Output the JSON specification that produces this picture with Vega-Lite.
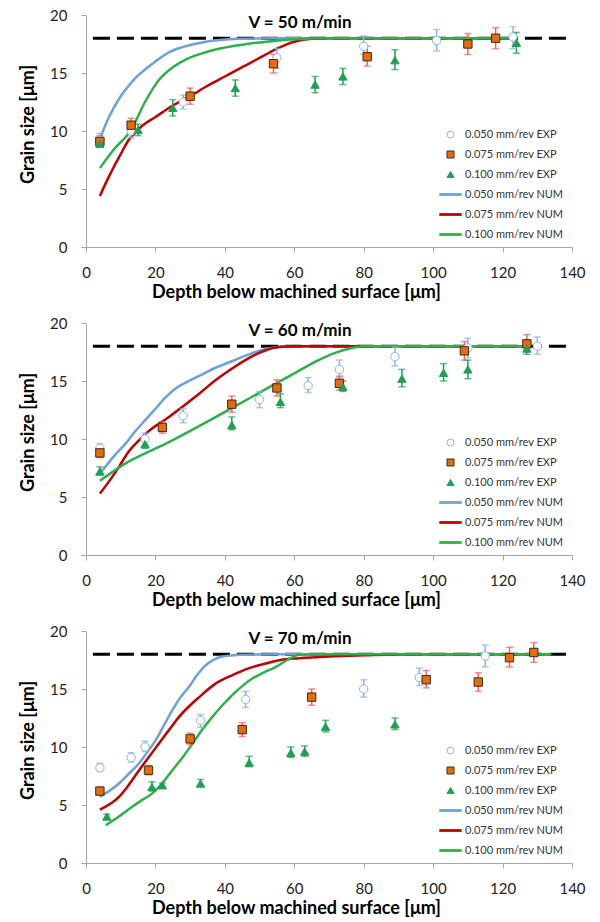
{
  "$schema": "https://vega.github.io/schema/vega-lite/v6.json",
  "padding": {"top": 8, "left": 19, "right": 5, "bottom": 2},
  "spacing": 15,
  "datasets": {
    "ref": [{"depth": 2, "size": 18}, {"depth": 139, "size": 18}],
    "exp": [
      {"panel": 50, "series": "0.050 mm/rev EXP", "depth": 4, "size": 9.2, "lo": 8.6, "hi": 9.8},
      {"panel": 50, "series": "0.050 mm/rev EXP", "depth": 13, "size": 10.0, "lo": 9.4, "hi": 10.6},
      {"panel": 50, "series": "0.050 mm/rev EXP", "depth": 28, "size": 12.5, "lo": 11.9, "hi": 13.1},
      {"panel": 50, "series": "0.050 mm/rev EXP", "depth": 55, "size": 16.3, "lo": 15.4, "hi": 17.1},
      {"panel": 50, "series": "0.050 mm/rev EXP", "depth": 80, "size": 17.3, "lo": 16.6, "hi": 18.2},
      {"panel": 50, "series": "0.050 mm/rev EXP", "depth": 101, "size": 17.8, "lo": 16.9, "hi": 18.75},
      {"panel": 50, "series": "0.050 mm/rev EXP", "depth": 123, "size": 18.1, "lo": 17.1, "hi": 19.0},
      {"panel": 50, "series": "0.075 mm/rev EXP", "depth": 4, "size": 9.1, "lo": 8.6, "hi": 9.6},
      {"panel": 50, "series": "0.075 mm/rev EXP", "depth": 13, "size": 10.5, "lo": 9.9, "hi": 11.1},
      {"panel": 50, "series": "0.075 mm/rev EXP", "depth": 30, "size": 13.0, "lo": 12.3, "hi": 13.7},
      {"panel": 50, "series": "0.075 mm/rev EXP", "depth": 54, "size": 15.8, "lo": 15.0, "hi": 16.6},
      {"panel": 50, "series": "0.075 mm/rev EXP", "depth": 81, "size": 16.4, "lo": 15.6, "hi": 17.3},
      {"panel": 50, "series": "0.075 mm/rev EXP", "depth": 110, "size": 17.5, "lo": 16.6, "hi": 18.4},
      {"panel": 50, "series": "0.075 mm/rev EXP", "depth": 118, "size": 18.0, "lo": 17.1, "hi": 18.9},
      {"panel": 50, "series": "0.100 mm/rev EXP", "depth": 4, "size": 8.9, "lo": 8.6, "hi": 9.3},
      {"panel": 50, "series": "0.100 mm/rev EXP", "depth": 15, "size": 10.1, "lo": 9.6, "hi": 10.6},
      {"panel": 50, "series": "0.100 mm/rev EXP", "depth": 25, "size": 12.0, "lo": 11.3, "hi": 12.7},
      {"panel": 50, "series": "0.100 mm/rev EXP", "depth": 43, "size": 13.7, "lo": 13.0, "hi": 14.4},
      {"panel": 50, "series": "0.100 mm/rev EXP", "depth": 66, "size": 14.0, "lo": 13.3, "hi": 14.7},
      {"panel": 50, "series": "0.100 mm/rev EXP", "depth": 74, "size": 14.7, "lo": 14.0, "hi": 15.4},
      {"panel": 50, "series": "0.100 mm/rev EXP", "depth": 89, "size": 16.1, "lo": 15.3, "hi": 17.0},
      {"panel": 50, "series": "0.100 mm/rev EXP", "depth": 124, "size": 17.6, "lo": 16.7, "hi": 18.5},

      {"panel": 60, "series": "0.050 mm/rev EXP", "depth": 4, "size": 9.2, "lo": 8.8, "hi": 9.6},
      {"panel": 60, "series": "0.050 mm/rev EXP", "depth": 17, "size": 10.0, "lo": 9.5, "hi": 10.5},
      {"panel": 60, "series": "0.050 mm/rev EXP", "depth": 28, "size": 12.0, "lo": 11.4, "hi": 12.6},
      {"panel": 60, "series": "0.050 mm/rev EXP", "depth": 50, "size": 13.4, "lo": 12.7, "hi": 14.1},
      {"panel": 60, "series": "0.050 mm/rev EXP", "depth": 64, "size": 14.6, "lo": 14.0, "hi": 15.3},
      {"panel": 60, "series": "0.050 mm/rev EXP", "depth": 73, "size": 16.0, "lo": 15.3, "hi": 16.8},
      {"panel": 60, "series": "0.050 mm/rev EXP", "depth": 89, "size": 17.1, "lo": 16.3, "hi": 17.9},
      {"panel": 60, "series": "0.050 mm/rev EXP", "depth": 110, "size": 17.85, "lo": 17.0, "hi": 18.7},
      {"panel": 60, "series": "0.050 mm/rev EXP", "depth": 130, "size": 18.0, "lo": 17.3, "hi": 18.8},
      {"panel": 60, "series": "0.075 mm/rev EXP", "depth": 4, "size": 8.8, "lo": 8.4, "hi": 9.2},
      {"panel": 60, "series": "0.075 mm/rev EXP", "depth": 22, "size": 11.0, "lo": 10.5, "hi": 11.5},
      {"panel": 60, "series": "0.075 mm/rev EXP", "depth": 42, "size": 13.0, "lo": 12.3, "hi": 13.7},
      {"panel": 60, "series": "0.075 mm/rev EXP", "depth": 55, "size": 14.4, "lo": 13.7, "hi": 15.1},
      {"panel": 60, "series": "0.075 mm/rev EXP", "depth": 73, "size": 14.8, "lo": 14.2, "hi": 15.4},
      {"panel": 60, "series": "0.075 mm/rev EXP", "depth": 109, "size": 17.6, "lo": 16.8, "hi": 18.4},
      {"panel": 60, "series": "0.075 mm/rev EXP", "depth": 127, "size": 18.2, "lo": 17.5, "hi": 19.0},
      {"panel": 60, "series": "0.100 mm/rev EXP", "depth": 4, "size": 7.2, "lo": 6.9, "hi": 7.6},
      {"panel": 60, "series": "0.100 mm/rev EXP", "depth": 17, "size": 9.55, "lo": 9.2, "hi": 10.0},
      {"panel": 60, "series": "0.100 mm/rev EXP", "depth": 42, "size": 11.2, "lo": 10.8, "hi": 11.9},
      {"panel": 60, "series": "0.100 mm/rev EXP", "depth": 56, "size": 13.2, "lo": 12.7, "hi": 13.9},
      {"panel": 60, "series": "0.100 mm/rev EXP", "depth": 74, "size": 14.5, "lo": 14.1, "hi": 15.0},
      {"panel": 60, "series": "0.100 mm/rev EXP", "depth": 91, "size": 15.2, "lo": 14.5, "hi": 16.0},
      {"panel": 60, "series": "0.100 mm/rev EXP", "depth": 103, "size": 15.7, "lo": 15.0, "hi": 16.5},
      {"panel": 60, "series": "0.100 mm/rev EXP", "depth": 110, "size": 16.0, "lo": 15.2, "hi": 16.8},
      {"panel": 60, "series": "0.100 mm/rev EXP", "depth": 127, "size": 17.8, "lo": 17.3, "hi": 18.4},

      {"panel": 70, "series": "0.050 mm/rev EXP", "depth": 4, "size": 8.2, "lo": 7.9, "hi": 8.6},
      {"panel": 70, "series": "0.050 mm/rev EXP", "depth": 13, "size": 9.1, "lo": 8.7, "hi": 9.5},
      {"panel": 70, "series": "0.050 mm/rev EXP", "depth": 17, "size": 10.0, "lo": 9.6, "hi": 10.5},
      {"panel": 70, "series": "0.050 mm/rev EXP", "depth": 33, "size": 12.3, "lo": 11.7, "hi": 12.8},
      {"panel": 70, "series": "0.050 mm/rev EXP", "depth": 46, "size": 14.1, "lo": 13.4, "hi": 14.8},
      {"panel": 70, "series": "0.050 mm/rev EXP", "depth": 80, "size": 15.0, "lo": 14.3, "hi": 15.8},
      {"panel": 70, "series": "0.050 mm/rev EXP", "depth": 96, "size": 16.0, "lo": 15.3, "hi": 16.8},
      {"panel": 70, "series": "0.050 mm/rev EXP", "depth": 115, "size": 17.85, "lo": 16.9, "hi": 18.8},
      {"panel": 70, "series": "0.075 mm/rev EXP", "depth": 4, "size": 6.2, "lo": 5.9, "hi": 6.5},
      {"panel": 70, "series": "0.075 mm/rev EXP", "depth": 18, "size": 8.0, "lo": 7.6, "hi": 8.4},
      {"panel": 70, "series": "0.075 mm/rev EXP", "depth": 30, "size": 10.7, "lo": 10.2, "hi": 11.2},
      {"panel": 70, "series": "0.075 mm/rev EXP", "depth": 45, "size": 11.5, "lo": 10.9, "hi": 12.1},
      {"panel": 70, "series": "0.075 mm/rev EXP", "depth": 65, "size": 14.3, "lo": 13.6, "hi": 15.0},
      {"panel": 70, "series": "0.075 mm/rev EXP", "depth": 98, "size": 15.8, "lo": 15.1, "hi": 16.6},
      {"panel": 70, "series": "0.075 mm/rev EXP", "depth": 113, "size": 15.6, "lo": 14.8, "hi": 16.4},
      {"panel": 70, "series": "0.075 mm/rev EXP", "depth": 122, "size": 17.7, "lo": 16.9, "hi": 18.6},
      {"panel": 70, "series": "0.075 mm/rev EXP", "depth": 129, "size": 18.15, "lo": 17.3, "hi": 19.0},
      {"panel": 70, "series": "0.100 mm/rev EXP", "depth": 6, "size": 4.0, "lo": 3.8, "hi": 4.2},
      {"panel": 70, "series": "0.100 mm/rev EXP", "depth": 19, "size": 6.55, "lo": 6.2, "hi": 7.0},
      {"panel": 70, "series": "0.100 mm/rev EXP", "depth": 22, "size": 6.7, "lo": 6.5, "hi": 6.9},
      {"panel": 70, "series": "0.100 mm/rev EXP", "depth": 33, "size": 6.85, "lo": 6.6, "hi": 7.2},
      {"panel": 70, "series": "0.100 mm/rev EXP", "depth": 47, "size": 8.65, "lo": 8.3, "hi": 9.2},
      {"panel": 70, "series": "0.100 mm/rev EXP", "depth": 59, "size": 9.5, "lo": 9.1, "hi": 10.0},
      {"panel": 70, "series": "0.100 mm/rev EXP", "depth": 63, "size": 9.6, "lo": 9.2, "hi": 10.1},
      {"panel": 70, "series": "0.100 mm/rev EXP", "depth": 69, "size": 11.75, "lo": 11.3, "hi": 12.3},
      {"panel": 70, "series": "0.100 mm/rev EXP", "depth": 89, "size": 11.95, "lo": 11.5, "hi": 12.5}
    ],
    "num": [
      {"panel": 50, "series": "0.050 mm/rev NUM", "depth": 4, "size": 9.3},
      {"panel": 50, "series": "0.050 mm/rev NUM", "depth": 6, "size": 10.8},
      {"panel": 50, "series": "0.050 mm/rev NUM", "depth": 8, "size": 12.0},
      {"panel": 50, "series": "0.050 mm/rev NUM", "depth": 10, "size": 13.0},
      {"panel": 50, "series": "0.050 mm/rev NUM", "depth": 12, "size": 13.8},
      {"panel": 50, "series": "0.050 mm/rev NUM", "depth": 14, "size": 14.5},
      {"panel": 50, "series": "0.050 mm/rev NUM", "depth": 17, "size": 15.3},
      {"panel": 50, "series": "0.050 mm/rev NUM", "depth": 20, "size": 16.0},
      {"panel": 50, "series": "0.050 mm/rev NUM", "depth": 24, "size": 16.8},
      {"panel": 50, "series": "0.050 mm/rev NUM", "depth": 28, "size": 17.25},
      {"panel": 50, "series": "0.050 mm/rev NUM", "depth": 32, "size": 17.55},
      {"panel": 50, "series": "0.050 mm/rev NUM", "depth": 37, "size": 17.8},
      {"panel": 50, "series": "0.050 mm/rev NUM", "depth": 45, "size": 17.95},
      {"panel": 50, "series": "0.050 mm/rev NUM", "depth": 55, "size": 18.0},
      {"panel": 50, "series": "0.050 mm/rev NUM", "depth": 124, "size": 18.0},
      {"panel": 50, "series": "0.075 mm/rev NUM", "depth": 4, "size": 4.4},
      {"panel": 50, "series": "0.075 mm/rev NUM", "depth": 6, "size": 5.7},
      {"panel": 50, "series": "0.075 mm/rev NUM", "depth": 8, "size": 6.9},
      {"panel": 50, "series": "0.075 mm/rev NUM", "depth": 10, "size": 8.0},
      {"panel": 50, "series": "0.075 mm/rev NUM", "depth": 12, "size": 9.1},
      {"panel": 50, "series": "0.075 mm/rev NUM", "depth": 14, "size": 9.8},
      {"panel": 50, "series": "0.075 mm/rev NUM", "depth": 16, "size": 10.4},
      {"panel": 50, "series": "0.075 mm/rev NUM", "depth": 20, "size": 11.2},
      {"panel": 50, "series": "0.075 mm/rev NUM", "depth": 25, "size": 12.2},
      {"panel": 50, "series": "0.075 mm/rev NUM", "depth": 30, "size": 13.0},
      {"panel": 50, "series": "0.075 mm/rev NUM", "depth": 35, "size": 13.9},
      {"panel": 50, "series": "0.075 mm/rev NUM", "depth": 40, "size": 14.7},
      {"panel": 50, "series": "0.075 mm/rev NUM", "depth": 45, "size": 15.5},
      {"panel": 50, "series": "0.075 mm/rev NUM", "depth": 50, "size": 16.3},
      {"panel": 50, "series": "0.075 mm/rev NUM", "depth": 55, "size": 17.1},
      {"panel": 50, "series": "0.075 mm/rev NUM", "depth": 60, "size": 17.7},
      {"panel": 50, "series": "0.075 mm/rev NUM", "depth": 65, "size": 17.95},
      {"panel": 50, "series": "0.075 mm/rev NUM", "depth": 70, "size": 18.0},
      {"panel": 50, "series": "0.075 mm/rev NUM", "depth": 124, "size": 18.0},
      {"panel": 50, "series": "0.100 mm/rev NUM", "depth": 4, "size": 6.8},
      {"panel": 50, "series": "0.100 mm/rev NUM", "depth": 8, "size": 8.4},
      {"panel": 50, "series": "0.100 mm/rev NUM", "depth": 13, "size": 10.1},
      {"panel": 50, "series": "0.100 mm/rev NUM", "depth": 17, "size": 12.5},
      {"panel": 50, "series": "0.100 mm/rev NUM", "depth": 21, "size": 14.4},
      {"panel": 50, "series": "0.100 mm/rev NUM", "depth": 25, "size": 15.5},
      {"panel": 50, "series": "0.100 mm/rev NUM", "depth": 29, "size": 16.2},
      {"panel": 50, "series": "0.100 mm/rev NUM", "depth": 33, "size": 16.65},
      {"panel": 50, "series": "0.100 mm/rev NUM", "depth": 37, "size": 17.0},
      {"panel": 50, "series": "0.100 mm/rev NUM", "depth": 44, "size": 17.4},
      {"panel": 50, "series": "0.100 mm/rev NUM", "depth": 52, "size": 17.7},
      {"panel": 50, "series": "0.100 mm/rev NUM", "depth": 60, "size": 17.9},
      {"panel": 50, "series": "0.100 mm/rev NUM", "depth": 70, "size": 18.0},
      {"panel": 50, "series": "0.100 mm/rev NUM", "depth": 124, "size": 18.0},

      {"panel": 60, "series": "0.050 mm/rev NUM", "depth": 4, "size": 7.0},
      {"panel": 60, "series": "0.050 mm/rev NUM", "depth": 8, "size": 8.5},
      {"panel": 60, "series": "0.050 mm/rev NUM", "depth": 11.4, "size": 9.6},
      {"panel": 60, "series": "0.050 mm/rev NUM", "depth": 14, "size": 10.6},
      {"panel": 60, "series": "0.050 mm/rev NUM", "depth": 17, "size": 11.6},
      {"panel": 60, "series": "0.050 mm/rev NUM", "depth": 20, "size": 12.6},
      {"panel": 60, "series": "0.050 mm/rev NUM", "depth": 23, "size": 13.6},
      {"panel": 60, "series": "0.050 mm/rev NUM", "depth": 26, "size": 14.4},
      {"panel": 60, "series": "0.050 mm/rev NUM", "depth": 29, "size": 14.9},
      {"panel": 60, "series": "0.050 mm/rev NUM", "depth": 33, "size": 15.5},
      {"panel": 60, "series": "0.050 mm/rev NUM", "depth": 37, "size": 16.1},
      {"panel": 60, "series": "0.050 mm/rev NUM", "depth": 42, "size": 16.7},
      {"panel": 60, "series": "0.050 mm/rev NUM", "depth": 47, "size": 17.3},
      {"panel": 60, "series": "0.050 mm/rev NUM", "depth": 51, "size": 17.7},
      {"panel": 60, "series": "0.050 mm/rev NUM", "depth": 55, "size": 17.9},
      {"panel": 60, "series": "0.050 mm/rev NUM", "depth": 60, "size": 18.0},
      {"panel": 60, "series": "0.050 mm/rev NUM", "depth": 127, "size": 18.0},
      {"panel": 60, "series": "0.075 mm/rev NUM", "depth": 4, "size": 5.3},
      {"panel": 60, "series": "0.075 mm/rev NUM", "depth": 7, "size": 6.5},
      {"panel": 60, "series": "0.075 mm/rev NUM", "depth": 9.5, "size": 7.6},
      {"panel": 60, "series": "0.075 mm/rev NUM", "depth": 12, "size": 8.8},
      {"panel": 60, "series": "0.075 mm/rev NUM", "depth": 15.3, "size": 9.9},
      {"panel": 60, "series": "0.075 mm/rev NUM", "depth": 19, "size": 10.9},
      {"panel": 60, "series": "0.075 mm/rev NUM", "depth": 23, "size": 11.7},
      {"panel": 60, "series": "0.075 mm/rev NUM", "depth": 27, "size": 12.6},
      {"panel": 60, "series": "0.075 mm/rev NUM", "depth": 32.6, "size": 13.9},
      {"panel": 60, "series": "0.075 mm/rev NUM", "depth": 37, "size": 15.0},
      {"panel": 60, "series": "0.075 mm/rev NUM", "depth": 42.2, "size": 16.1},
      {"panel": 60, "series": "0.075 mm/rev NUM", "depth": 47, "size": 17.0},
      {"panel": 60, "series": "0.075 mm/rev NUM", "depth": 51.8, "size": 17.65},
      {"panel": 60, "series": "0.075 mm/rev NUM", "depth": 56, "size": 17.95},
      {"panel": 60, "series": "0.075 mm/rev NUM", "depth": 60, "size": 18.0},
      {"panel": 60, "series": "0.075 mm/rev NUM", "depth": 127, "size": 18.0},
      {"panel": 60, "series": "0.100 mm/rev NUM", "depth": 4, "size": 6.4},
      {"panel": 60, "series": "0.100 mm/rev NUM", "depth": 11.4, "size": 7.9},
      {"panel": 60, "series": "0.100 mm/rev NUM", "depth": 23, "size": 9.6},
      {"panel": 60, "series": "0.100 mm/rev NUM", "depth": 42.2, "size": 12.7},
      {"panel": 60, "series": "0.100 mm/rev NUM", "depth": 50, "size": 14.0},
      {"panel": 60, "series": "0.100 mm/rev NUM", "depth": 56, "size": 15.0},
      {"panel": 60, "series": "0.100 mm/rev NUM", "depth": 61.4, "size": 15.9},
      {"panel": 60, "series": "0.100 mm/rev NUM", "depth": 67, "size": 16.8},
      {"panel": 60, "series": "0.100 mm/rev NUM", "depth": 72, "size": 17.45},
      {"panel": 60, "series": "0.100 mm/rev NUM", "depth": 76, "size": 17.8},
      {"panel": 60, "series": "0.100 mm/rev NUM", "depth": 80, "size": 18.0},
      {"panel": 60, "series": "0.100 mm/rev NUM", "depth": 127.6, "size": 18.0},

      {"panel": 70, "series": "0.050 mm/rev NUM", "depth": 4, "size": 5.7},
      {"panel": 70, "series": "0.050 mm/rev NUM", "depth": 9.5, "size": 6.85},
      {"panel": 70, "series": "0.050 mm/rev NUM", "depth": 12, "size": 7.6},
      {"panel": 70, "series": "0.050 mm/rev NUM", "depth": 15.3, "size": 8.6},
      {"panel": 70, "series": "0.050 mm/rev NUM", "depth": 18, "size": 9.7},
      {"panel": 70, "series": "0.050 mm/rev NUM", "depth": 20.1, "size": 10.6},
      {"panel": 70, "series": "0.050 mm/rev NUM", "depth": 22.5, "size": 11.9},
      {"panel": 70, "series": "0.050 mm/rev NUM", "depth": 24.9, "size": 13.2},
      {"panel": 70, "series": "0.050 mm/rev NUM", "depth": 27.5, "size": 14.4},
      {"panel": 70, "series": "0.050 mm/rev NUM", "depth": 29.7, "size": 15.2},
      {"panel": 70, "series": "0.050 mm/rev NUM", "depth": 32, "size": 16.2},
      {"panel": 70, "series": "0.050 mm/rev NUM", "depth": 34.5, "size": 17.05},
      {"panel": 70, "series": "0.050 mm/rev NUM", "depth": 37, "size": 17.55},
      {"panel": 70, "series": "0.050 mm/rev NUM", "depth": 39.3, "size": 17.8},
      {"panel": 70, "series": "0.050 mm/rev NUM", "depth": 45, "size": 17.95},
      {"panel": 70, "series": "0.050 mm/rev NUM", "depth": 55, "size": 18.0},
      {"panel": 70, "series": "0.050 mm/rev NUM", "depth": 134, "size": 18.0},
      {"panel": 70, "series": "0.075 mm/rev NUM", "depth": 4, "size": 4.6},
      {"panel": 70, "series": "0.075 mm/rev NUM", "depth": 9.5, "size": 5.7},
      {"panel": 70, "series": "0.075 mm/rev NUM", "depth": 12, "size": 6.6},
      {"panel": 70, "series": "0.075 mm/rev NUM", "depth": 15.3, "size": 8.0},
      {"panel": 70, "series": "0.075 mm/rev NUM", "depth": 18, "size": 9.1},
      {"panel": 70, "series": "0.075 mm/rev NUM", "depth": 21, "size": 10.3},
      {"panel": 70, "series": "0.075 mm/rev NUM", "depth": 24, "size": 11.5},
      {"panel": 70, "series": "0.075 mm/rev NUM", "depth": 26.8, "size": 12.6},
      {"panel": 70, "series": "0.075 mm/rev NUM", "depth": 30, "size": 13.6},
      {"panel": 70, "series": "0.075 mm/rev NUM", "depth": 32.6, "size": 14.3},
      {"panel": 70, "series": "0.075 mm/rev NUM", "depth": 37, "size": 15.4},
      {"panel": 70, "series": "0.075 mm/rev NUM", "depth": 42.2, "size": 16.2},
      {"panel": 70, "series": "0.075 mm/rev NUM", "depth": 47, "size": 16.8},
      {"panel": 70, "series": "0.075 mm/rev NUM", "depth": 51.8, "size": 17.2},
      {"panel": 70, "series": "0.075 mm/rev NUM", "depth": 56, "size": 17.5},
      {"panel": 70, "series": "0.075 mm/rev NUM", "depth": 61.4, "size": 17.65},
      {"panel": 70, "series": "0.075 mm/rev NUM", "depth": 70, "size": 17.8},
      {"panel": 70, "series": "0.075 mm/rev NUM", "depth": 80, "size": 17.9},
      {"panel": 70, "series": "0.075 mm/rev NUM", "depth": 95, "size": 18.0},
      {"panel": 70, "series": "0.075 mm/rev NUM", "depth": 134, "size": 18.0},
      {"panel": 70, "series": "0.100 mm/rev NUM", "depth": 5.7, "size": 3.25},
      {"panel": 70, "series": "0.100 mm/rev NUM", "depth": 9.5, "size": 4.0},
      {"panel": 70, "series": "0.100 mm/rev NUM", "depth": 13.3, "size": 4.85},
      {"panel": 70, "series": "0.100 mm/rev NUM", "depth": 16, "size": 5.4},
      {"panel": 70, "series": "0.100 mm/rev NUM", "depth": 19.1, "size": 6.0},
      {"panel": 70, "series": "0.100 mm/rev NUM", "depth": 22, "size": 6.9},
      {"panel": 70, "series": "0.100 mm/rev NUM", "depth": 24.9, "size": 8.0},
      {"panel": 70, "series": "0.100 mm/rev NUM", "depth": 27.8, "size": 9.1},
      {"panel": 70, "series": "0.100 mm/rev NUM", "depth": 30.7, "size": 10.3},
      {"panel": 70, "series": "0.100 mm/rev NUM", "depth": 33.5, "size": 11.5},
      {"panel": 70, "series": "0.100 mm/rev NUM", "depth": 36.4, "size": 12.6},
      {"panel": 70, "series": "0.100 mm/rev NUM", "depth": 39.3, "size": 13.6},
      {"panel": 70, "series": "0.100 mm/rev NUM", "depth": 42.2, "size": 14.5},
      {"panel": 70, "series": "0.100 mm/rev NUM", "depth": 45, "size": 15.25},
      {"panel": 70, "series": "0.100 mm/rev NUM", "depth": 47.9, "size": 15.9},
      {"panel": 70, "series": "0.100 mm/rev NUM", "depth": 51, "size": 16.4},
      {"panel": 70, "series": "0.100 mm/rev NUM", "depth": 54.7, "size": 16.9},
      {"panel": 70, "series": "0.100 mm/rev NUM", "depth": 58, "size": 17.5},
      {"panel": 70, "series": "0.100 mm/rev NUM", "depth": 61.4, "size": 17.95},
      {"panel": 70, "series": "0.100 mm/rev NUM", "depth": 70, "size": 18.0},
      {"panel": 70, "series": "0.100 mm/rev NUM", "depth": 134, "size": 18.0}
    ]
  },
  "resolve": {
    "scale": {"shape": "independent", "fill": "independent", "stroke": "independent", "color": "independent"},
    "legend": {"shape": "independent", "fill": "independent", "stroke": "independent", "color": "independent"}
  },
  "vconcat": [
    {
      "width": 486, "height": 232,
      "title": {"text": "V = 50 m/min", "frame": "group", "anchor": "middle", "offset": -24, "dx": -29, "fontSize": 17, "fontWeight": "bold", "color": "#000000"},
      "encoding": {
        "x": {"field": "depth", "type": "quantitative", "scale": {"domain": [0, 140]}, "axis": {"title": "Depth below machined surface [μm]", "values": [0, 20, 40, 60, 80, 100, 120, 140], "titleX": 210}},
        "y": {"field": "size", "type": "quantitative", "scale": {"domain": [0, 20]}, "axis": {"title": "Grain size [μm]", "values": [0, 5, 10, 15, 20], "titleY": 109}}
      },
      "layer": [
        {"data": {"name": "ref"}, "mark": {"type": "line", "color": "#000000", "strokeWidth": 3, "strokeDash": [17, 7]}},
        {"data": {"name": "num"}, "transform": [{"filter": "datum.panel == 50"}],
         "mark": {"type": "line", "strokeWidth": 2.5, "interpolate": "monotone"},
         "encoding": {"detail": {"field": "series"}, "color": {"field": "series", "type": "nominal", "legend": null,
           "scale": {"domain": ["0.050 mm/rev NUM", "0.075 mm/rev NUM", "0.100 mm/rev NUM", "0.050 mm/rev EXP", "0.075 mm/rev EXP", "0.100 mm/rev EXP"], "range": ["#6FA0D8", "#C00000", "#2DB04B", "#8DB4E2", "#FF5B5B", "#1FA055"]}}}},
        {"data": {"name": "exp"}, "transform": [{"filter": "datum.panel == 50"}],
         "mark": {"type": "rule", "strokeWidth": 1.5},
         "encoding": {"y": {"field": "lo", "type": "quantitative", "title": "Grain size [μm]"}, "y2": {"field": "hi"}, "color": {"field": "series", "type": "nominal", "legend": null,
           "scale": {"domain": ["0.050 mm/rev NUM", "0.075 mm/rev NUM", "0.100 mm/rev NUM", "0.050 mm/rev EXP", "0.075 mm/rev EXP", "0.100 mm/rev EXP"], "range": ["#6FA0D8", "#C00000", "#2DB04B", "#8DB4E2", "#FF5B5B", "#1FA055"]}}}},
        {"data": {"name": "exp"}, "transform": [{"filter": "datum.panel == 50"}],
         "mark": {"type": "tick", "orient": "horizontal", "size": 7, "thickness": 1.5},
         "encoding": {"y": {"field": "lo", "type": "quantitative", "title": "Grain size [μm]"}, "color": {"field": "series", "type": "nominal", "legend": null,
           "scale": {"domain": ["0.050 mm/rev NUM", "0.075 mm/rev NUM", "0.100 mm/rev NUM", "0.050 mm/rev EXP", "0.075 mm/rev EXP", "0.100 mm/rev EXP"], "range": ["#6FA0D8", "#C00000", "#2DB04B", "#8DB4E2", "#FF5B5B", "#1FA055"]}}}},
        {"data": {"name": "exp"}, "transform": [{"filter": "datum.panel == 50"}],
         "mark": {"type": "tick", "orient": "horizontal", "size": 7, "thickness": 1.5},
         "encoding": {"y": {"field": "hi", "type": "quantitative", "title": "Grain size [μm]"}, "color": {"field": "series", "type": "nominal", "legend": null,
           "scale": {"domain": ["0.050 mm/rev NUM", "0.075 mm/rev NUM", "0.100 mm/rev NUM", "0.050 mm/rev EXP", "0.075 mm/rev EXP", "0.100 mm/rev EXP"], "range": ["#6FA0D8", "#C00000", "#2DB04B", "#8DB4E2", "#FF5B5B", "#1FA055"]}}}},
        {"data": {"name": "exp"}, "transform": [{"filter": "datum.panel == 50"}],
         "mark": {"type": "point", "size": 70, "opacity": 1, "strokeWidth": 1},
         "encoding": {
           "shape": {"field": "series", "type": "nominal", "legend": {"title": null, "orient": "none", "legendX": 359, "legendY": 114}, "scale": {"domain": ["0.050 mm/rev EXP", "0.075 mm/rev EXP", "0.100 mm/rev EXP", "0.050 mm/rev NUM", "0.075 mm/rev NUM", "0.100 mm/rev NUM"], "range": ["circle", "square", "triangle-up", "M-3.2,-0.4H3.2V0.4H-3.2Z", "M-3.2,-0.4H3.2V0.4H-3.2Z", "M-3.2,-0.4H3.2V0.4H-3.2Z"]}},
           "fill": {"field": "series", "type": "nominal", "legend": {"title": null, "orient": "none", "legendX": 359, "legendY": 114}, "scale": {"domain": ["0.050 mm/rev EXP", "0.075 mm/rev EXP", "0.100 mm/rev EXP", "0.050 mm/rev NUM", "0.075 mm/rev NUM", "0.100 mm/rev NUM"], "range": ["#FFFFFF", "#E46C0A", "#1FA055", "#6FA0D8", "#C00000", "#2DB04B"]}},
           "stroke": {"field": "series", "type": "nominal", "legend": {"title": null, "orient": "none", "legendX": 359, "legendY": 114}, "scale": {"domain": ["0.050 mm/rev EXP", "0.075 mm/rev EXP", "0.100 mm/rev EXP", "0.050 mm/rev NUM", "0.075 mm/rev NUM", "0.100 mm/rev NUM"], "range": ["#8DB4E2", "#3A2A1A", "#1FA055", "transparent", "transparent", "transparent"]}}
         }}
      ]
    },
    {
      "width": 486, "height": 232,
      "title": {"text": "V = 60 m/min", "frame": "group", "anchor": "middle", "offset": -24, "dx": -29, "fontSize": 17, "fontWeight": "bold", "color": "#000000"},
      "encoding": {
        "x": {"field": "depth", "type": "quantitative", "scale": {"domain": [0, 140]}, "axis": {"title": "Depth below machined surface [μm]", "values": [0, 20, 40, 60, 80, 100, 120, 140], "titleX": 210}},
        "y": {"field": "size", "type": "quantitative", "scale": {"domain": [0, 20]}, "axis": {"title": "Grain size [μm]", "values": [0, 5, 10, 15, 20], "titleY": 109}}
      },
      "layer": [
        {"data": {"name": "ref"}, "mark": {"type": "line", "color": "#000000", "strokeWidth": 3, "strokeDash": [17, 7]}},
        {"data": {"name": "num"}, "transform": [{"filter": "datum.panel == 60"}],
         "mark": {"type": "line", "strokeWidth": 2.5, "interpolate": "monotone"},
         "encoding": {"detail": {"field": "series"}, "color": {"field": "series", "type": "nominal", "legend": null,
           "scale": {"domain": ["0.050 mm/rev NUM", "0.075 mm/rev NUM", "0.100 mm/rev NUM", "0.050 mm/rev EXP", "0.075 mm/rev EXP", "0.100 mm/rev EXP"], "range": ["#6FA0D8", "#C00000", "#2DB04B", "#8DB4E2", "#FF5B5B", "#1FA055"]}}}},
        {"data": {"name": "exp"}, "transform": [{"filter": "datum.panel == 60"}],
         "mark": {"type": "rule", "strokeWidth": 1.5},
         "encoding": {"y": {"field": "lo", "type": "quantitative", "title": "Grain size [μm]"}, "y2": {"field": "hi"}, "color": {"field": "series", "type": "nominal", "legend": null,
           "scale": {"domain": ["0.050 mm/rev NUM", "0.075 mm/rev NUM", "0.100 mm/rev NUM", "0.050 mm/rev EXP", "0.075 mm/rev EXP", "0.100 mm/rev EXP"], "range": ["#6FA0D8", "#C00000", "#2DB04B", "#8DB4E2", "#FF5B5B", "#1FA055"]}}}},
        {"data": {"name": "exp"}, "transform": [{"filter": "datum.panel == 60"}],
         "mark": {"type": "tick", "orient": "horizontal", "size": 7, "thickness": 1.5},
         "encoding": {"y": {"field": "lo", "type": "quantitative", "title": "Grain size [μm]"}, "color": {"field": "series", "type": "nominal", "legend": null,
           "scale": {"domain": ["0.050 mm/rev NUM", "0.075 mm/rev NUM", "0.100 mm/rev NUM", "0.050 mm/rev EXP", "0.075 mm/rev EXP", "0.100 mm/rev EXP"], "range": ["#6FA0D8", "#C00000", "#2DB04B", "#8DB4E2", "#FF5B5B", "#1FA055"]}}}},
        {"data": {"name": "exp"}, "transform": [{"filter": "datum.panel == 60"}],
         "mark": {"type": "tick", "orient": "horizontal", "size": 7, "thickness": 1.5},
         "encoding": {"y": {"field": "hi", "type": "quantitative", "title": "Grain size [μm]"}, "color": {"field": "series", "type": "nominal", "legend": null,
           "scale": {"domain": ["0.050 mm/rev NUM", "0.075 mm/rev NUM", "0.100 mm/rev NUM", "0.050 mm/rev EXP", "0.075 mm/rev EXP", "0.100 mm/rev EXP"], "range": ["#6FA0D8", "#C00000", "#2DB04B", "#8DB4E2", "#FF5B5B", "#1FA055"]}}}},
        {"data": {"name": "exp"}, "transform": [{"filter": "datum.panel == 60"}],
         "mark": {"type": "point", "size": 70, "opacity": 1, "strokeWidth": 1},
         "encoding": {
           "shape": {"field": "series", "type": "nominal", "legend": {"title": null, "orient": "none", "legendX": 359, "legendY": 114}, "scale": {"domain": ["0.050 mm/rev EXP", "0.075 mm/rev EXP", "0.100 mm/rev EXP", "0.050 mm/rev NUM", "0.075 mm/rev NUM", "0.100 mm/rev NUM"], "range": ["circle", "square", "triangle-up", "M-3.2,-0.4H3.2V0.4H-3.2Z", "M-3.2,-0.4H3.2V0.4H-3.2Z", "M-3.2,-0.4H3.2V0.4H-3.2Z"]}},
           "fill": {"field": "series", "type": "nominal", "legend": {"title": null, "orient": "none", "legendX": 359, "legendY": 114}, "scale": {"domain": ["0.050 mm/rev EXP", "0.075 mm/rev EXP", "0.100 mm/rev EXP", "0.050 mm/rev NUM", "0.075 mm/rev NUM", "0.100 mm/rev NUM"], "range": ["#FFFFFF", "#E46C0A", "#1FA055", "#6FA0D8", "#C00000", "#2DB04B"]}},
           "stroke": {"field": "series", "type": "nominal", "legend": {"title": null, "orient": "none", "legendX": 359, "legendY": 114}, "scale": {"domain": ["0.050 mm/rev EXP", "0.075 mm/rev EXP", "0.100 mm/rev EXP", "0.050 mm/rev NUM", "0.075 mm/rev NUM", "0.100 mm/rev NUM"], "range": ["#8DB4E2", "#3A2A1A", "#1FA055", "transparent", "transparent", "transparent"]}}
         }}
      ]
    },
    {
      "width": 486, "height": 232,
      "title": {"text": "V = 70 m/min", "frame": "group", "anchor": "middle", "offset": -24, "dx": -29, "fontSize": 17, "fontWeight": "bold", "color": "#000000"},
      "encoding": {
        "x": {"field": "depth", "type": "quantitative", "scale": {"domain": [0, 140]}, "axis": {"title": "Depth below machined surface [μm]", "values": [0, 20, 40, 60, 80, 100, 120, 140], "titleX": 210}},
        "y": {"field": "size", "type": "quantitative", "scale": {"domain": [0, 20]}, "axis": {"title": "Grain size [μm]", "values": [0, 5, 10, 15, 20], "titleY": 109}}
      },
      "layer": [
        {"data": {"name": "ref"}, "mark": {"type": "line", "color": "#000000", "strokeWidth": 3, "strokeDash": [17, 7]}},
        {"data": {"name": "num"}, "transform": [{"filter": "datum.panel == 70"}],
         "mark": {"type": "line", "strokeWidth": 2.5, "interpolate": "monotone"},
         "encoding": {"detail": {"field": "series"}, "color": {"field": "series", "type": "nominal", "legend": null,
           "scale": {"domain": ["0.050 mm/rev NUM", "0.075 mm/rev NUM", "0.100 mm/rev NUM", "0.050 mm/rev EXP", "0.075 mm/rev EXP", "0.100 mm/rev EXP"], "range": ["#6FA0D8", "#C00000", "#2DB04B", "#8DB4E2", "#FF5B5B", "#1FA055"]}}}},
        {"data": {"name": "exp"}, "transform": [{"filter": "datum.panel == 70"}],
         "mark": {"type": "rule", "strokeWidth": 1.5},
         "encoding": {"y": {"field": "lo", "type": "quantitative", "title": "Grain size [μm]"}, "y2": {"field": "hi"}, "color": {"field": "series", "type": "nominal", "legend": null,
           "scale": {"domain": ["0.050 mm/rev NUM", "0.075 mm/rev NUM", "0.100 mm/rev NUM", "0.050 mm/rev EXP", "0.075 mm/rev EXP", "0.100 mm/rev EXP"], "range": ["#6FA0D8", "#C00000", "#2DB04B", "#8DB4E2", "#FF5B5B", "#1FA055"]}}}},
        {"data": {"name": "exp"}, "transform": [{"filter": "datum.panel == 70"}],
         "mark": {"type": "tick", "orient": "horizontal", "size": 7, "thickness": 1.5},
         "encoding": {"y": {"field": "lo", "type": "quantitative", "title": "Grain size [μm]"}, "color": {"field": "series", "type": "nominal", "legend": null,
           "scale": {"domain": ["0.050 mm/rev NUM", "0.075 mm/rev NUM", "0.100 mm/rev NUM", "0.050 mm/rev EXP", "0.075 mm/rev EXP", "0.100 mm/rev EXP"], "range": ["#6FA0D8", "#C00000", "#2DB04B", "#8DB4E2", "#FF5B5B", "#1FA055"]}}}},
        {"data": {"name": "exp"}, "transform": [{"filter": "datum.panel == 70"}],
         "mark": {"type": "tick", "orient": "horizontal", "size": 7, "thickness": 1.5},
         "encoding": {"y": {"field": "hi", "type": "quantitative", "title": "Grain size [μm]"}, "color": {"field": "series", "type": "nominal", "legend": null,
           "scale": {"domain": ["0.050 mm/rev NUM", "0.075 mm/rev NUM", "0.100 mm/rev NUM", "0.050 mm/rev EXP", "0.075 mm/rev EXP", "0.100 mm/rev EXP"], "range": ["#6FA0D8", "#C00000", "#2DB04B", "#8DB4E2", "#FF5B5B", "#1FA055"]}}}},
        {"data": {"name": "exp"}, "transform": [{"filter": "datum.panel == 70"}],
         "mark": {"type": "point", "size": 70, "opacity": 1, "strokeWidth": 1},
         "encoding": {
           "shape": {"field": "series", "type": "nominal", "legend": {"title": null, "orient": "none", "legendX": 359, "legendY": 114}, "scale": {"domain": ["0.050 mm/rev EXP", "0.075 mm/rev EXP", "0.100 mm/rev EXP", "0.050 mm/rev NUM", "0.075 mm/rev NUM", "0.100 mm/rev NUM"], "range": ["circle", "square", "triangle-up", "M-3.2,-0.4H3.2V0.4H-3.2Z", "M-3.2,-0.4H3.2V0.4H-3.2Z", "M-3.2,-0.4H3.2V0.4H-3.2Z"]}},
           "fill": {"field": "series", "type": "nominal", "legend": {"title": null, "orient": "none", "legendX": 359, "legendY": 114}, "scale": {"domain": ["0.050 mm/rev EXP", "0.075 mm/rev EXP", "0.100 mm/rev EXP", "0.050 mm/rev NUM", "0.075 mm/rev NUM", "0.100 mm/rev NUM"], "range": ["#FFFFFF", "#E46C0A", "#1FA055", "#6FA0D8", "#C00000", "#2DB04B"]}},
           "stroke": {"field": "series", "type": "nominal", "legend": {"title": null, "orient": "none", "legendX": 359, "legendY": 114}, "scale": {"domain": ["0.050 mm/rev EXP", "0.075 mm/rev EXP", "0.100 mm/rev EXP", "0.050 mm/rev NUM", "0.075 mm/rev NUM", "0.100 mm/rev NUM"], "range": ["#8DB4E2", "#3A2A1A", "#1FA055", "transparent", "transparent", "transparent"]}}
         }}
      ]
    }
  ],
  "config": {
    "font": "Lato",
    "view": {"stroke": null},
    "axis": {"grid": false, "domainColor": "#A6A6A6", "tickColor": "#A6A6A6", "tickSize": 5, "labelFontSize": 15, "labelFont": "Lato", "labelColor": "#222222", "labelPadding": 13, "titleFont": "Lato", "titleFontSize": 18, "titleFontWeight": "bold", "titleColor": "#000000"},
    "axisX": {"titlePadding": 3, "labelFlush": false},
    "axisY": {"titlePadding": 12, "labelPadding": 14},
    "legend": {"padding": 0, "labelFontSize": 11, "labelColor": "#333333", "symbolSize": 49, "symbolStrokeWidth": 1, "rowPadding": 8, "labelOffset": 9}
  }
}
